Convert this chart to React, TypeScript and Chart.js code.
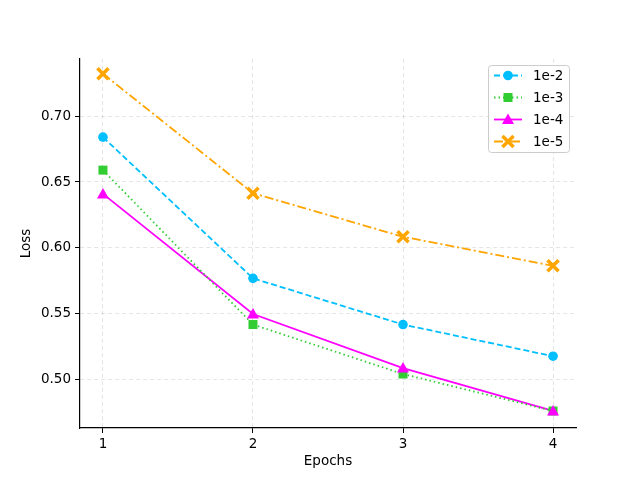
import React, { useEffect, useRef } from "react";
import { Chart, registerables } from "chart.js";

Chart.register(...registerables);

const epochs = [1, 2, 3, 4];
const seriesLabels = ["1e-2", "1e-3", "1e-4", "1e-5"];
const loss1e2 = [0.684, 0.577, 0.542, 0.518];
const loss1e3 = [0.659, 0.542, 0.5045, 0.4765];
const loss1e4 = [0.641, 0.55, 0.509, 0.4765];
const loss1e5 = [0.732, 0.6415, 0.6085, 0.5865];
const xTicks = [1, 2, 3, 4];
const yTicks = [0.5, 0.55, 0.6, 0.65, 0.7];

const FONT = "'DejaVu Sans', sans-serif";

const styles = [
  { color: "#00bfff", dash: [6, 3], point: "circle", radius: 4.8, pbw: 1 },
  { color: "#32cd32", dash: [1.5, 3], point: "rect", radius: 4.5, pbw: 1 },
  { color: "#ff00ff", dash: [], point: "triangle", radius: 6, pbw: 1 },
  { color: "#ffa500", dash: [9, 3, 2, 3], point: "crossRot", radius: 6.5, pbw: 3.5 },
];

function drawMarker(ctx: CanvasRenderingContext2D, style: string, x: number, y: number, r: number, color: string, bw: number) {
  ctx.save();
  ctx.fillStyle = color;
  ctx.strokeStyle = color;
  ctx.setLineDash([]);
  ctx.lineWidth = bw;
  ctx.beginPath();
  if (style === "circle") {
    ctx.arc(x, y, r, 0, Math.PI * 2);
    ctx.fill();
  } else if (style === "rect") {
    const s = r * 2;
    ctx.rect(x - s / 2, y - s / 2, s, s);
    ctx.fill();
  } else if (style === "triangle") {
    ctx.moveTo(x, y - r);
    ctx.lineTo(x + r, y + r * 0.75);
    ctx.lineTo(x - r, y + r * 0.75);
    ctx.closePath();
    ctx.fill();
  } else if (style === "crossRot") {
    const d = r * 0.85;
    ctx.lineCap = "butt";
    ctx.moveTo(x - d, y - d);
    ctx.lineTo(x + d, y + d);
    ctx.moveTo(x + d, y - d);
    ctx.lineTo(x - d, y + d);
    ctx.stroke();
  }
  ctx.restore();
}

const legendPlugin = {
  id: "mplLegend",
  afterDraw(chart: any) {
    const ctx: CanvasRenderingContext2D = chart.ctx;
    const left = 488, top = 65, w = 81, h = 87;
    ctx.save();
    ctx.fillStyle = "rgba(255,255,255,0.85)";
    ctx.strokeStyle = "#cccccc";
    ctx.lineWidth = 1;
    ctx.beginPath();
    (ctx as any).roundRect(left + 0.5, top + 0.5, w, h, 3);
    ctx.fill();
    ctx.stroke();
    chart.data.datasets.forEach((ds: any, i: number) => {
      const st = styles[i];
      const y = top + 10.5 + i * 22;
      ctx.strokeStyle = st.color;
      ctx.lineWidth = 1.8;
      ctx.setLineDash(st.dash);
      ctx.beginPath();
      ctx.moveTo(left + 6, y);
      ctx.lineTo(left + 34, y);
      ctx.stroke();
      drawMarker(ctx, st.point, left + 20, y, st.radius, st.color, st.pbw);
      ctx.setLineDash([]);
      ctx.fillStyle = "#000";
      ctx.font = `13.5px ${FONT}`;
      ctx.textBaseline = "middle";
      ctx.fillText(ds.label, left + 45, y + 1);
    });
    ctx.restore();
  },
};

const customPoints = {
  id: "customPoints",
  afterDatasetsDraw(chart: any) {
    const ctx = chart.ctx;
    chart.data.datasets.forEach((ds: any, i: number) => {
      const meta = chart.getDatasetMeta(i);
      const st = styles[i];
      meta.data.forEach((pt: any) => {
        drawMarker(ctx, st.point, pt.x, pt.y, st.radius, st.color, st.pbw);
      });
    });
  },
};

const gridOpts = {
  color: "rgba(0,0,0,0.1)",
  tickColor: "#000",
  tickLength: 5,
  tickWidth: 1,
  tickBorderDash: [],
};

export default function App() {
  const ref = useRef<HTMLCanvasElement>(null);
  useEffect(() => {
    document.body.style.margin = "0";
    const series = [loss1e2, loss1e3, loss1e4, loss1e5];
    const chart = new Chart(ref.current!, {
      type: "line",
      data: {
        datasets: series.map((vals, i) => ({
          label: seriesLabels[i],
          data: epochs.map((e, j) => ({ x: e, y: vals[j] })),
          borderColor: styles[i].color,
          backgroundColor: styles[i].color,
          borderDash: styles[i].dash,
          borderWidth: 1.8,
          pointRadius: 0,
          pointHoverRadius: 0,
          fill: false,
          tension: 0,
        })),
      },
      options: {
        animation: false,
        responsive: false,
        devicePixelRatio: 1,
        layout: { padding: { left: 0, top: 59, right: 64, bottom: 0 } },
        plugins: { legend: { display: false }, tooltip: { enabled: false } },
        scales: {
          x: {
            type: "linear",
            min: 0.847,
            max: 4.153,
            afterBuildTicks: (s: any) => {
              s.ticks = xTicks.map((v) => ({ value: v }));
            },
            afterFit: (s: any) => {
              s.height = 52;
            },
            ticks: { color: "#000", font: { family: FONT, size: 13.5 }, padding: 3, callback: (v: any) => String(v) },
            grid: gridOpts as any,
            border: { display: true, color: "#000", width: 1.2, dash: [4, 3] },
            title: { display: true, text: "Epochs", color: "#000", font: { family: FONT, size: 13.5 }, padding: { top: 0, bottom: 10 } },
          },
          y: {
            type: "linear",
            min: 0.4636,
            max: 0.7432,
            afterBuildTicks: (s: any) => {
              s.ticks = yTicks.map((v) => ({ value: v }));
            },
            afterFit: (s: any) => {
              s.width = 80;
            },
            ticks: { color: "#000", font: { family: FONT, size: 13.5 }, padding: 4, callback: (v: any) => Number(v).toFixed(2) },
            grid: gridOpts as any,
            border: { display: true, color: "#000", width: 1.2, dash: [4, 3] },
            title: { display: true, text: "Loss", color: "#000", font: { family: FONT, size: 13.5 }, padding: { top: 18, bottom: 0 } },
          },
        },
      },
      plugins: [customPoints, legendPlugin],
    } as any);
    return () => chart.destroy();
  }, []);
  return (
    <div style={{ position: "absolute", left: 0, top: 0, width: 640, height: 480 }}>
      <canvas ref={ref} width={640} height={480} style={{ width: 640, height: 480 }} />
    </div>
  );
}
